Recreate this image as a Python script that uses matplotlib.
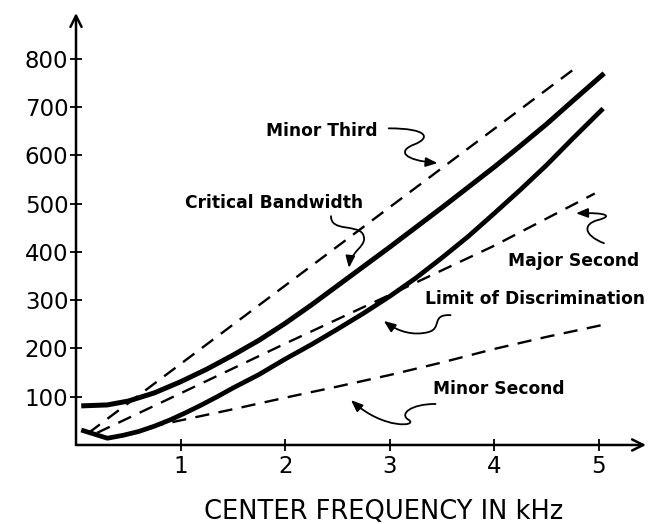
import matplotlib
matplotlib.use('Agg')
import matplotlib.pyplot as plt
from matplotlib.path import Path
from matplotlib.patches import FancyArrowPatch

# Data (frequency in kHz, bandwidth in Hz)
freq_cb = [0.05, 0.3, 0.5, 0.75, 1.0, 1.25, 1.5, 1.75, 2.0, 2.25, 2.5, 2.75,
           3.0, 3.25, 3.5, 3.75, 4.0, 4.25, 4.5, 4.75, 5.05]
critical_bw = [81, 83, 91, 108, 131, 157, 186, 217, 252, 290, 330, 370,
               410, 451, 492, 534, 576, 620, 665, 713, 770]

freq_ld = [0.05, 0.3, 0.45, 0.6, 0.75, 0.9, 1.05, 1.2, 1.35, 1.5, 1.75, 2.0,
           2.25, 2.5, 2.75, 3.0, 3.25, 3.5, 3.75, 4.0, 4.25, 4.5, 4.75, 5.04]
limit_disc = [31, 14, 20, 28, 39, 52, 67, 83, 100, 118, 146, 178,
              208, 240, 273, 308, 346, 388, 432, 480, 529, 580, 635, 697]

freq_m3 = [0.12, 4.8]
minor_third = [25, 785]

freq_M2 = [0.2, 1.0, 2.0, 3.0, 4.0, 4.96]
major_second = [25, 107, 210, 311, 413, 521]

freq_m2 = [0.7, 1.0, 1.5, 2.0, 2.5, 3.0, 3.5, 4.0, 4.5, 5.02]
minor_second = [37, 51, 74, 98, 121, 145, 171, 199, 224, 248]

x_ticks = [1, 2, 3, 4, 5]
y_ticks = [100, 200, 300, 400, 500, 600, 700, 800]

fig = plt.figure(figsize=(6.48, 5.24), dpi=100)
ax = fig.add_axes([0.1173, 0.1508, 0.8796, 0.8244])

ax.plot(freq_cb, critical_bw, color='black', lw=3.6, solid_capstyle='butt')
ax.plot(freq_ld, limit_disc, color='black', lw=3.4, solid_capstyle='butt')
ax.plot(freq_m3, minor_third, color='black', lw=1.7, dashes=(6, 4))
ax.plot(freq_M2, major_second, color='black', lw=1.7, dashes=(6, 4))
ax.plot(freq_m2, minor_second, color='black', lw=1.7, dashes=(6, 4))

ax.set_xlim(0, 5.45)
ax.set_ylim(0, 895)
for s in ax.spines.values():
    s.set_visible(False)

# axes drawn as arrows
ax.annotate('', xy=(1, 0), xytext=(0, 0), xycoords='axes fraction',
            arrowprops=dict(arrowstyle='->', lw=1.8, mutation_scale=20, shrinkA=0, shrinkB=0))
ax.annotate('', xy=(0, 1), xytext=(0, 0), xycoords='axes fraction',
            arrowprops=dict(arrowstyle='->', lw=1.8, mutation_scale=20, shrinkA=0, shrinkB=0))

ax.set_xticks(x_ticks)
ax.set_yticks(y_ticks)
ax.tick_params(direction='inout', length=9, width=1.3, labelsize=16.5)
ax.tick_params(axis='y', pad=1)
ax.tick_params(axis='x', pad=3)

ax.set_xlabel('CENTER FREQUENCY IN kHz', fontsize=18.5)
ax.xaxis.set_label_coords(0.54, -0.125)

# curve labels
lbl = dict(fontsize=12.3, fontweight='bold', va='center', ha='left')
ax.text(1.819, 650, 'Minor Third', **lbl)
ax.text(1.038, 501, 'Critical Bandwidth', **lbl)
ax.text(4.133, 381, 'Major Second', **lbl)
ax.text(3.333, 302, 'Limit of Discrimination', **lbl)
ax.text(3.410, 116, 'Minor Second', **lbl)

# squiggly leader arrows (two cubic bezier pieces each)
squiggles = [
    [(2.990, 656), (3.371, 656), (3.390, 636), (3.238, 623), (3.067, 609), (3.133, 590), (3.457, 584)],
    [(2.438, 474), (2.438, 441), (2.686, 458), (2.743, 437), (2.800, 412), (2.629, 404), (2.610, 367)],
    [(5.048, 418), (4.848, 435), (4.848, 458), (4.990, 466), (5.133, 474), (5.086, 482), (4.781, 480)],
    [(3.581, 269), (3.390, 271), (3.505, 242), (3.371, 234), (3.229, 226), (3.086, 234), (2.943, 257)],
    [(3.438, 85), (3.200, 85), (3.086, 64), (3.181, 52), (3.276, 39), (2.943, 31), (2.629, 93)],
]
codes = [Path.MOVETO] + [Path.CURVE4] * 6
for pts in squiggles:
    arr = FancyArrowPatch(path=Path(pts, codes), arrowstyle='-|>,head_length=0.5,head_width=0.2',
                          mutation_scale=14, lw=1.3, color='black')
    ax.add_patch(arr)

plt.savefig('out.png', dpi=100)
